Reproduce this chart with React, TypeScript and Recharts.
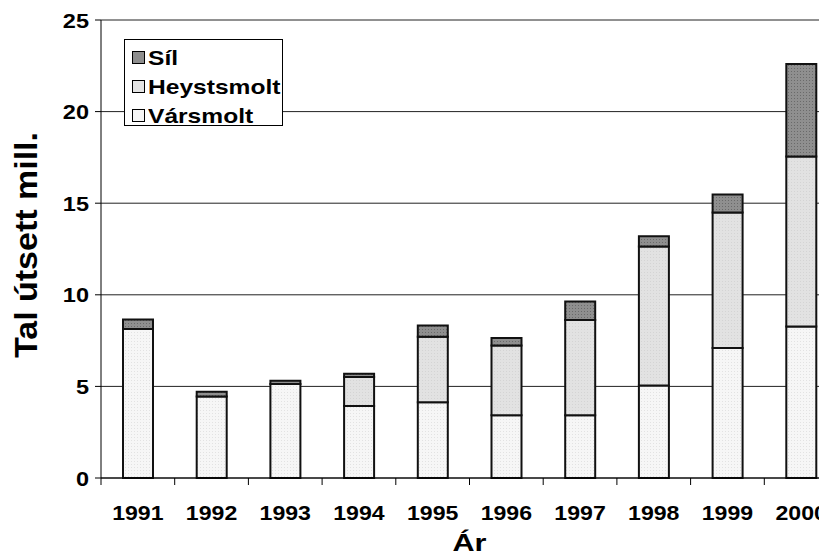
import React from 'react';
import { BarChart, Bar, XAxis, YAxis, CartesianGrid, Legend } from 'recharts';

// Útsetingar í millióntals, lisið av myndini
const years = ['1991', '1992', '1993', '1994', '1995', '1996', '1997', '1998', '1999', '2000'];
const varsmolt = [8.13, 4.45, 5.13, 3.93, 4.13, 3.42, 3.42, 5.05, 7.09, 8.27];
const heystsmolt = [0, 0, 0, 1.58, 3.58, 3.81, 5.2, 7.58, 7.4, 9.28];
const sil = [0.52, 0.26, 0.18, 0.18, 0.62, 0.41, 1.01, 0.57, 0.98, 5.05];
const yTicks = [0, 5, 10, 15, 20, 25];

const data = years.map((year, i) => ({
  year,
  varsmolt: varsmolt[i],
  heystsmolt: heystsmolt[i],
  sil: sil[i],
}));

const CHART_W = 850;
const CHART_H = 550;
const Y_AXIS_W = 93;
const MARGIN = { top: 12, right: 20, left: 0, bottom: 0 };
const BAND = (CHART_W - Y_AXIS_W - MARGIN.right) / years.length;
const FONT = "'Liberation Sans', Arial, sans-serif";

const legendItems = [
  { name: 'Síl', swatch: '#8e8e8e' },
  { name: 'Heystsmolt', swatch: '#e4e4e4' },
  { name: 'Vársmolt', swatch: '#f6f6f6' },
];

const XTick = ({ x, y, payload }: any) => (
  <g>
    <line x1={x - BAND / 2} y1={y} x2={x - BAND / 2} y2={y + 7} stroke="#000" strokeWidth={1} />
    <text
      transform={`translate(${x},${y + 42}) scale(1.1,1)`}
      textAnchor="middle"
      fontFamily={FONT}
      fontWeight="bold"
      fontSize={21}
      fill="#000"
    >
      {payload.value}
    </text>
  </g>
);

const YTick = ({ x, y, payload }: any) => (
  <g>
    <line x1={x - 6} y1={y} x2={x} y2={y} stroke="#000" strokeWidth={1} />
    <text
      transform={`translate(${x - 12},${y + 7.5}) scale(1.12,1)`}
      textAnchor="end"
      fontFamily={FONT}
      fontWeight="bold"
      fontSize={21}
      fill="#000"
    >
      {payload.value}
    </text>
  </g>
);

const YLabel = () => (
  <text
    transform="translate(29,237) rotate(-90)"
    textAnchor="middle"
    fontFamily={FONT}
    fontWeight="bold"
    fontSize={31}
    textLength={226}
    lengthAdjust="spacingAndGlyphs"
    fill="#000"
  >
    Tal útsett mill.
  </text>
);

const XLabel = ({ viewBox }: any) => (
  <text
    x={viewBox.x + viewBox.width / 2}
    y={543}
    textAnchor="middle"
    fontFamily={FONT}
    fontWeight="bold"
    fontSize={24}
    textLength={34}
    lengthAdjust="spacingAndGlyphs"
    fill="#000"
  >
    Ár
  </text>
);

const LegendBox = () => (
  <div
    style={{
      width: 159,
      height: 87,
      border: '1px solid #000',
      background: '#fff',
      fontFamily: FONT,
      fontWeight: 'bold',
      fontSize: 21,
      padding: '3px 0 0 7px',
      boxSizing: 'border-box',
    }}
  >
    {legendItems.map((item) => (
      <div key={item.name} style={{ display: 'flex', alignItems: 'center', height: 29 }}>
        <span
          style={{
            display: 'inline-block',
            width: 11,
            height: 11,
            border: '1px solid #000',
            background: item.swatch,
            marginRight: 3,
          }}
        />
        <span style={{ display: 'inline-block', transform: 'scaleX(1.17)', transformOrigin: 'left center' }}>
          {item.name}
        </span>
      </div>
    ))}
  </div>
);

export default function App() {
  return (
    <div style={{ width: 819, height: 550, overflow: 'hidden', position: 'relative' }}>
      <BarChart width={CHART_W} height={CHART_H} data={data} margin={MARGIN} barSize={30}>
        <defs>
          <pattern id="dotsSil" width="3" height="3" patternUnits="userSpaceOnUse">
            <rect width="3" height="3" fill="#8f8f8f" />
            <rect width="1" height="1" fill="#6a6a6a" />
          </pattern>
          <pattern id="dotsHeyst" width="3" height="3" patternUnits="userSpaceOnUse">
            <rect width="3" height="3" fill="#e2e2e2" />
            <rect width="1" height="1" fill="#d4d4d4" />
          </pattern>
          <pattern id="dotsVar" width="3" height="3" patternUnits="userSpaceOnUse">
            <rect width="3" height="3" fill="#f6f6f6" />
            <rect width="1" height="1" fill="#e2e2e2" />
          </pattern>
        </defs>
        <CartesianGrid vertical={false} stroke="#222" strokeWidth={1} />
        <XAxis
          dataKey="year"
          height={80}
          tickSize={0}
          tickMargin={0}
          tickLine={false}
          axisLine={{ stroke: '#000', strokeWidth: 1 }}
          tick={<XTick />}
          interval={0}
          label={{ content: <XLabel /> }}
        />
        <YAxis
          width={Y_AXIS_W}
          domain={[0, 25]}
          ticks={yTicks}
          tickSize={0}
          tickMargin={0}
          tickLine={false}
          axisLine={{ stroke: '#000', strokeWidth: 1 }}
          tick={<YTick />}
          label={{ content: <YLabel /> }}
        />
        <Legend
          layout="horizontal"
          verticalAlign="middle"
          align="center"
          content={<LegendBox />}
          wrapperStyle={{ left: 116, top: 31, width: 'auto', height: 'auto' }}
        />
        <Bar dataKey="varsmolt" name="Vársmolt" stackId="a" fill="url(#dotsVar)" stroke="#111" strokeWidth={2} isAnimationActive={false} />
        <Bar dataKey="heystsmolt" name="Heystsmolt" stackId="a" fill="url(#dotsHeyst)" stroke="#111" strokeWidth={2} isAnimationActive={false} />
        <Bar dataKey="sil" name="Síl" stackId="a" fill="url(#dotsSil)" stroke="#111" strokeWidth={2} isAnimationActive={false} />
      </BarChart>
    </div>
  );
}
